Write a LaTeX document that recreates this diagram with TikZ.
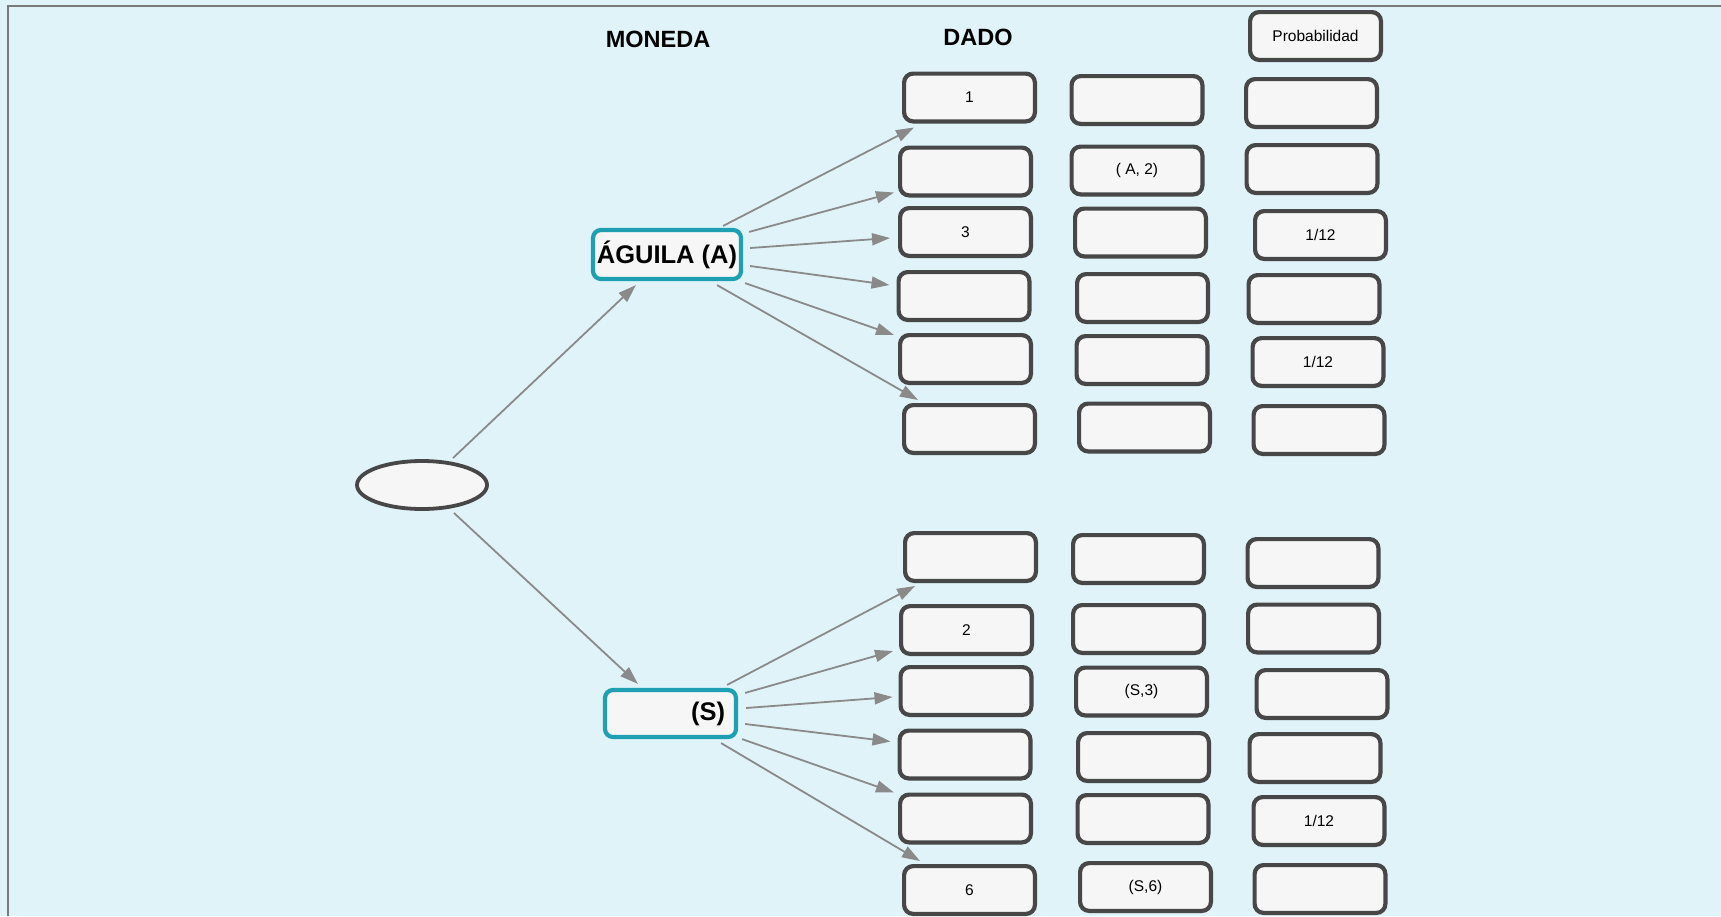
\documentclass[tikz,border=0pt]{standalone}
\usepackage{fontspec}
\setmainfont{Liberation Sans}
\usetikzlibrary{arrows.meta,shapes.geometric}
\definecolor{bg}{HTML}{DFF3F9}
\definecolor{boxfill}{HTML}{F6F6F6}
\definecolor{boxline}{HTML}{474747}
\definecolor{coinline}{HTML}{1E9FB2}
\definecolor{arrowc}{HTML}{8A8A8A}
\definecolor{framec}{HTML}{7A7A7A}
\begin{document}
\begin{tikzpicture}[x=1pt,y=-1pt,
  box/.style={draw=boxline, line width=4.2pt, fill=boxfill, rounded corners=9pt,
    minimum width=130.8pt, minimum height=47.8pt, inner sep=0pt,
    font=\fontsize{15.5}{18}\selectfont},
  coin/.style={draw=coinline, line width=4.2pt, fill=boxfill, rounded corners=8pt,
    inner sep=0pt, font=\fontsize{25.5}{28}\selectfont\bfseries},
  head/.style={font=\fontsize{23.5}{27}\selectfont\bfseries, inner sep=0pt},
  arr/.style={draw=arrowc, line width=1.8pt, -{Triangle[length=18pt,width=12pt]}},
]
\useasboundingbox (0,0) rectangle (1721,916);
\fill[bg] (0,0) rectangle (1721,916);
\draw[framec, line width=1.5pt] (8,916) -- (8,6) -- (1721,6);

% headers
\node[head] (moneda) at (658,39) {MONEDA};
\node[head] (dado) at (978,37) {DADO};
\node[box] (prob) at (1315.5,36) {Probabilidad};

% root
\node[ellipse, draw=boxline, line width=3.8pt, fill=boxfill,
  minimum width=130pt, minimum height=48pt] (root) at (422,485) {};

% coin nodes
\node[coin, minimum width=148pt, minimum height=49pt] (ag) at (667,254.5) {ÁGUILA (A)};
\node[coin, minimum width=131pt, minimum height=47pt, text width=109pt, align=right,
  inner xsep=11pt] (sol) at (670.5,713.5) {(S)};

% upper dice column
\node[box] (d1) at (969.5,97.5) {1};
\node[box] (d2) at (965.5,171.5) {};
\node[box] (d3) at (965.5,232) {3};
\node[box] (d4) at (964,296) {};
\node[box] (d5) at (965.5,359) {};
\node[box] (d6) at (969.5,429) {};
% upper outcome column
\node[box] (c1) at (1137,100) {};
\node[box] (c2) at (1137,170.5) {( A, 2)};
\node[box] (c3) at (1140.5,232.5) {};
\node[box] (c4) at (1142.5,298) {};
\node[box] (c5) at (1142,360) {};
\node[box] (c6) at (1144.5,427.5) {};
% upper probability column
\node[box] (p1) at (1311.5,103) {};
\node[box] (p2) at (1312,169) {};
\node[box] (p3) at (1320.5,235) {1/12};
\node[box] (p4) at (1314,299) {};
\node[box] (p5) at (1318,362) {1/12};
\node[box] (p6) at (1319,430) {};

% lower dice column
\node[box] (e1) at (970.5,557) {};
\node[box] (e2) at (966.5,630) {2};
\node[box] (e3) at (966,691) {};
\node[box] (e4) at (965,754.5) {};
\node[box] (e5) at (965.5,818.5) {};
\node[box] (e6) at (969.5,890) {6};
% lower outcome column
\node[box] (f1) at (1138.5,559) {};
\node[box] (f2) at (1138.5,629) {};
\node[box] (f3) at (1141.5,691.5) {(S,3)};
\node[box] (f4) at (1143.5,757) {};
\node[box] (f5) at (1143,819) {};
\node[box] (f6) at (1145.5,887) {(S,6)};
% lower probability column
\node[box] (q1) at (1313,563) {};
\node[box] (q2) at (1313.5,628.5) {};
\node[box] (q3) at (1322,694) {};
\node[box] (q4) at (1315,758) {};
\node[box] (q5) at (1319,821) {1/12};
\node[box] (q6) at (1320,889) {};

% root arrows
\draw[arr] ([shift={(31,-27)}]root.center) -- ([shift={(45,4)}]ag.south west);
\draw[arr] ([shift={(32,28)}]root.center) -- ([shift={(35,-4)}]sol.north west);

% upper arrows
\draw[arr] ([shift={(-20,-2)}]ag.north east) -- ([shift={(12,4)}]d1.south west);
\draw[arr] ([shift={(6,4)}]ag.north east) -- ([shift={(-4,-5)}]d2.south west);
\draw[arr] ([shift={(7,-6.5)}]ag.east) -- ([shift={(-8,6)}]d3.west);
\draw[arr] ([shift={(7,11.5)}]ag.east) -- ([shift={(-7,15)}]d4.north west);
\draw[arr] ([shift={(2,2)}]ag.south east) -- ([shift={(-4,2)}]d5.north west);
\draw[arr] ([shift={(-26,4)}]ag.south east) -- ([shift={(16,-3)}]d6.north west);

% lower arrows
\draw[arr] ([shift={(-11,-3)}]sol.north east) -- ([shift={(12,3)}]e1.south west);
\draw[arr] ([shift={(7,5)}]sol.north east) -- ([shift={(-6,-5)}]e2.south west);
\draw[arr] ([shift={(8,-5.5)}]sol.east) -- ([shift={(-6,6)}]e3.west);
\draw[arr] ([shift={(7,10.5)}]sol.east) -- ([shift={(-7,13)}]e4.north west);
\draw[arr] ([shift={(4,0)}]sol.south east) -- ([shift={(-4,0)}]e5.north west);
\draw[arr] ([shift={(-17,4)}]sol.south east) -- ([shift={(18,-3)}]e6.north west);
\end{tikzpicture}
\end{document}
